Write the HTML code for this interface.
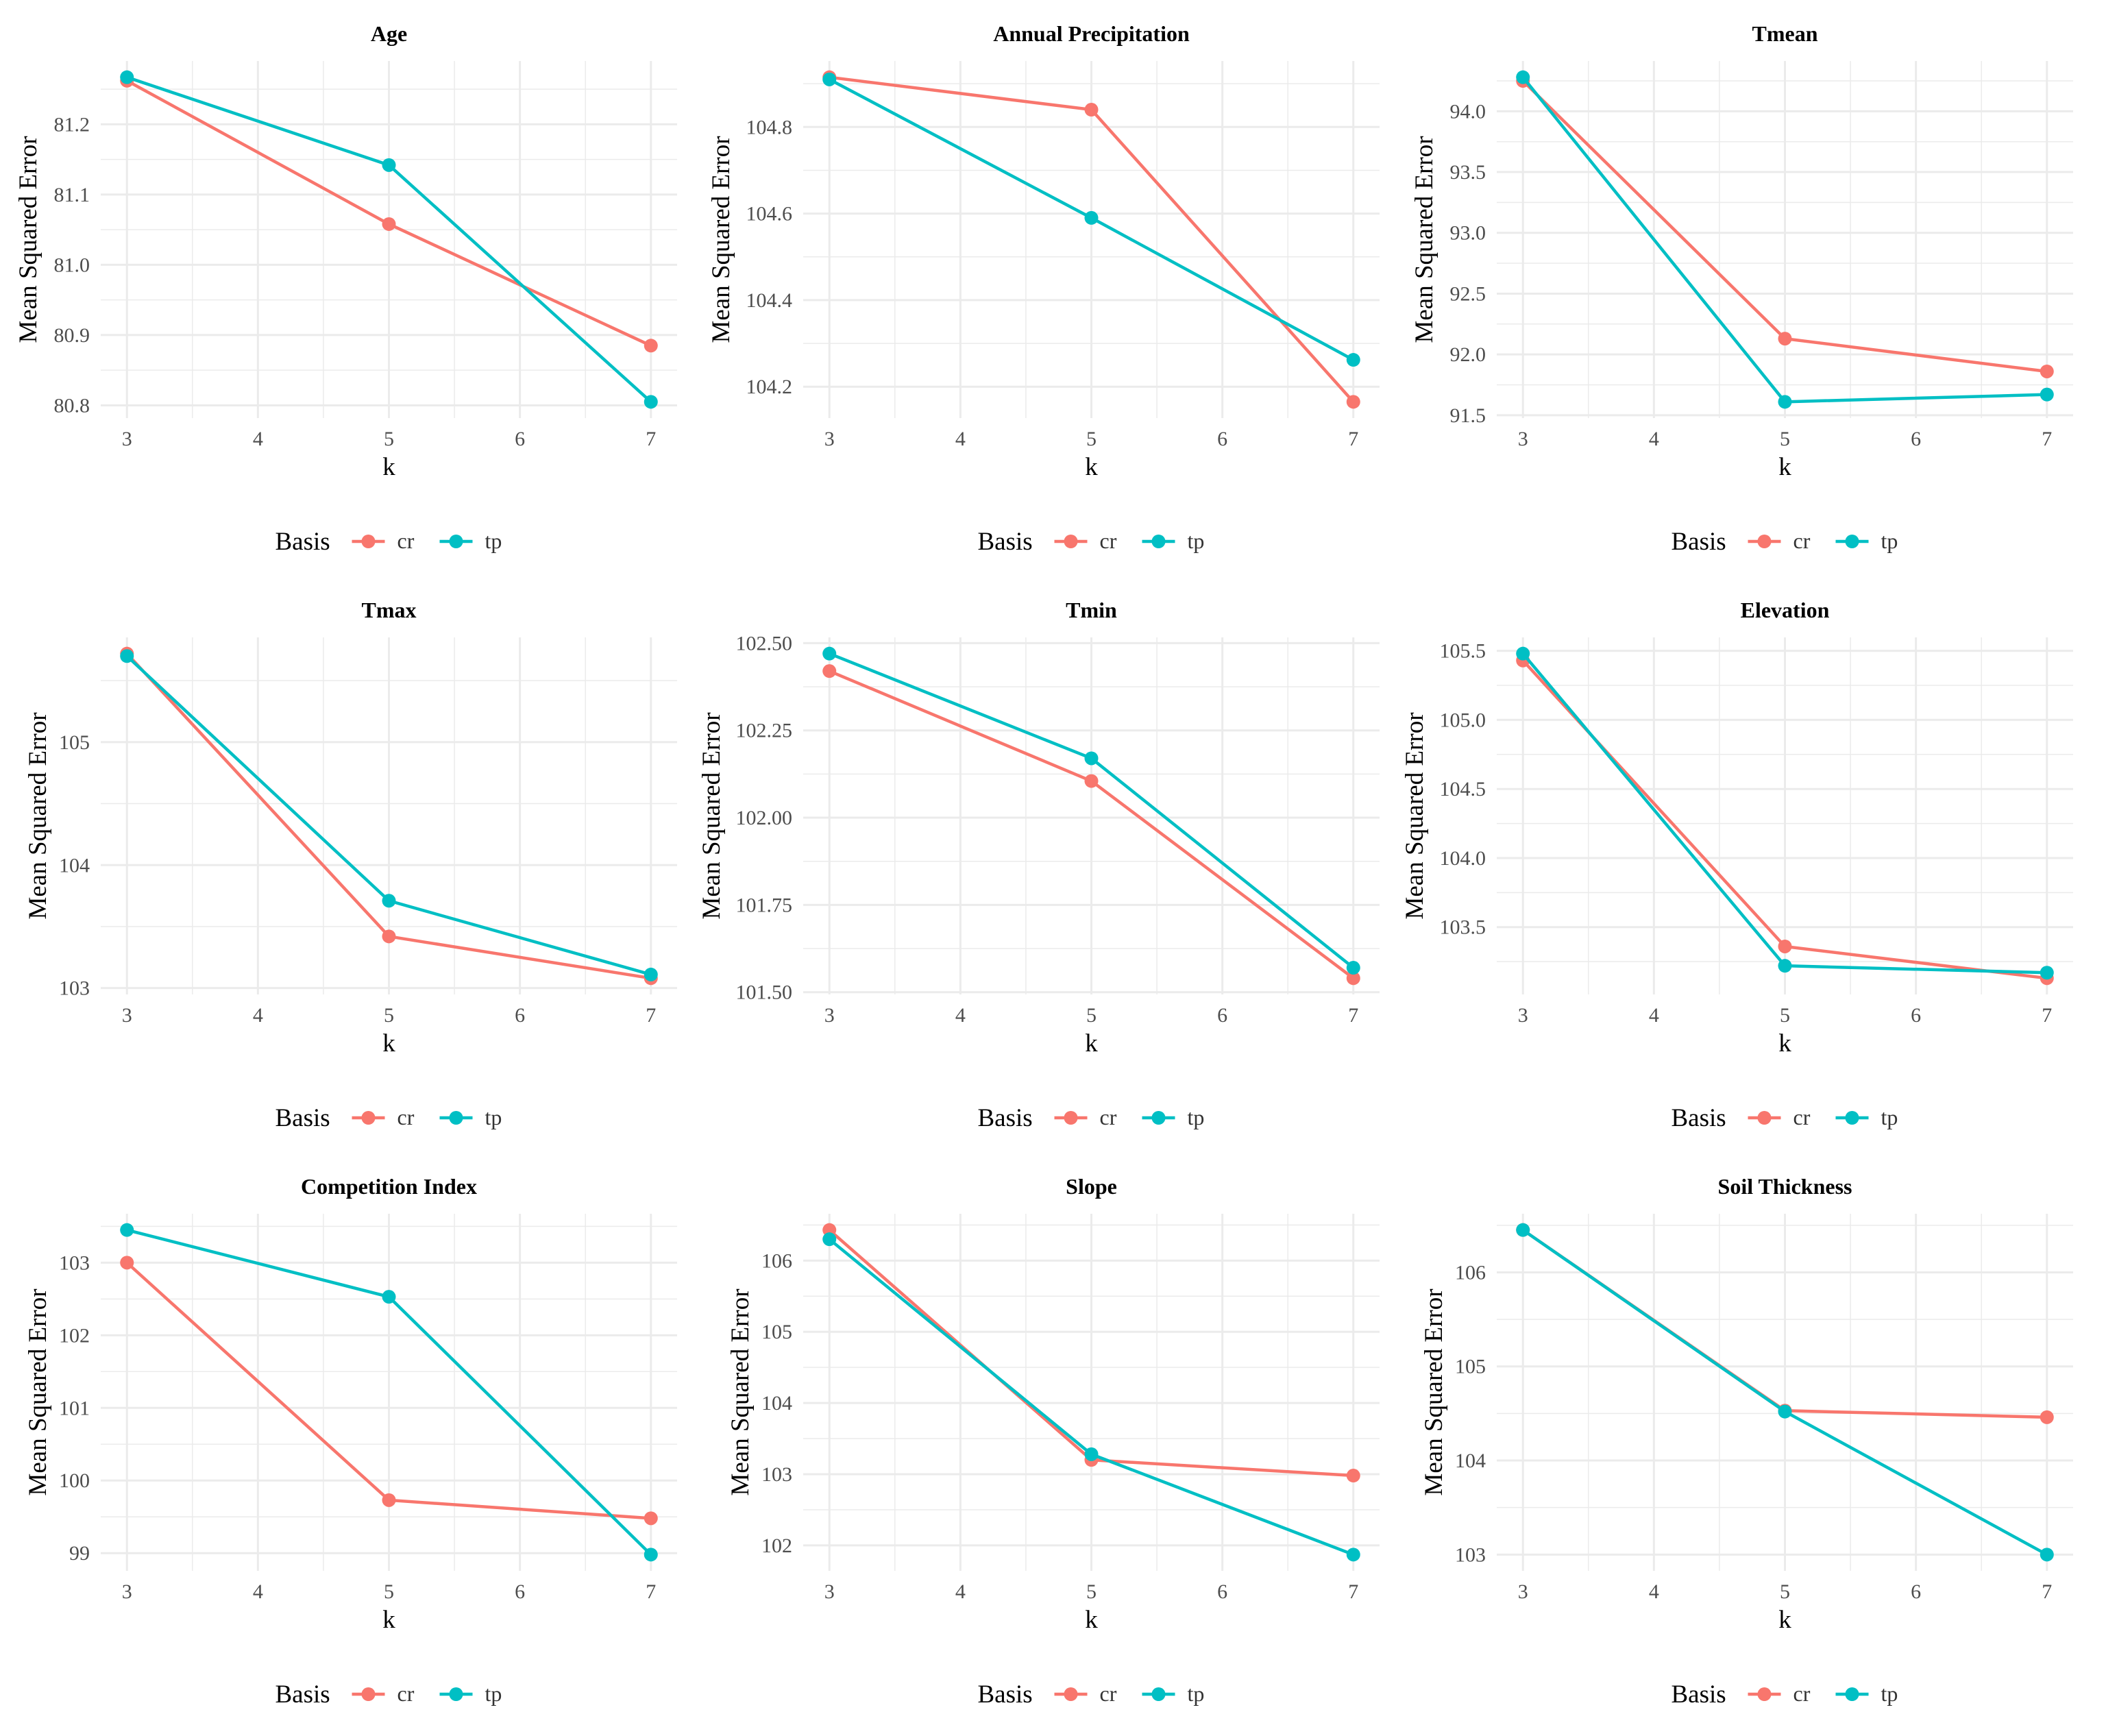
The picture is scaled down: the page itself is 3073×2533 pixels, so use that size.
<!DOCTYPE html>
<html><head><meta charset="utf-8"><style>
body{margin:0;background:#fff;}
svg text{font-family:"Liberation Serif",serif;}
</style></head><body>
<svg id="chart" width="3073" height="2528" xmlns="http://www.w3.org/2000/svg"></svg>
<script>
const titles=["Age","Annual Precipitation","Tmean","Tmax","Tmin","Elevation","Competition Index","Slope","Soil Thickness"];
const kValues=[3,5,7];
const xTicks=[3,4,5,6,7];
const crValues=[[81.262,81.058,80.885],[104.915,104.84,104.165],[94.25,92.13,91.86],[105.72,103.42,103.08],[102.42,102.105,101.54],[105.43,103.36,103.13],[103.0,99.73,99.48],[106.43,103.2,102.98],[106.45,104.53,104.46]];
const tpValues=[[81.267,81.142,80.805],[104.91,104.59,104.262],[94.28,91.61,91.67],[105.70,103.71,103.11],[102.47,102.17,101.57],[105.48,103.22,103.17],[103.45,102.53,98.98],[106.3,103.28,101.87],[106.45,104.52,103.0]];
const yTickLabels=[["80.8","80.9","81.0","81.1","81.2"],["104.2","104.4","104.6","104.8"],["91.5","92.0","92.5","93.0","93.5","94.0"],["103","104","105"],["101.50","101.75","102.00","102.25","102.50"],["103.5","104.0","104.5","105.0","105.5"],["99","100","101","102","103"],["102","103","104","105","106"],["103","104","105","106"]];

const NS="http://www.w3.org/2000/svg";
const svg=document.getElementById('chart');
const colX3=[185,1210,2222];
const rowOff=[0,841,1682];
const CR="#F8766D",TP="#00BFC4";
function el(tag,attrs,parent){const e=document.createElementNS(NS,tag);for(const k in attrs)e.setAttribute(k,attrs[k]);(parent||svg).appendChild(e);return e;}

titles.forEach((title,i)=>{
  const col=i%3,row=Math.floor(i/3);
  const g=el('g',{});
  
  
  const x3=colX3[col],L=x3-38,R=x3+765+38,T=rowOff[row]+89,B=rowOff[row]+610;
  const xs=v=>L+(v-2.8)/4.4*(R-L);
  const all=crValues[i].concat(tpValues[i]);
  const mn=Math.min(...all),mx=Math.max(...all),pad=(mx-mn)*0.05;
  const lo=mn-pad,hi=mx+pad;
  const ys=v=>B-(v-lo)/(hi-lo)*(B-T);
  const ticks=yTickLabels[i].map(Number);
  const step=ticks[1]-ticks[0];
  for(let t=ticks[0]-step/2;t<=hi;t+=step){ if(t<lo) continue;
    const ln=el('line',{x1:L,x2:R,y1:ys(t),y2:ys(t),stroke:"#ebebeb","stroke-width":1.5},g);
    
    }
  for(let t=3.5;t<7;t+=1){
    const ln=el('line',{x1:xs(t),x2:xs(t),y1:T,y2:B,stroke:"#ebebeb","stroke-width":1.5},g);
    
    }
  yTickLabels[i].forEach(lab=>{const v=Number(lab);
    const ln=el('line',{x1:L,x2:R,y1:ys(v),y2:ys(v),stroke:"#ebebeb","stroke-width":3},g);
    
    
    const t=el('text',{x:L-16,y:ys(v)+10,"text-anchor":"end","font-size":30,fill:"#4d4d4d"},g);t.textContent=lab;
    
    });
  xTicks.forEach(v=>{
    const ln=el('line',{x1:xs(v),x2:xs(v),y1:T,y2:B,stroke:"#ebebeb","stroke-width":3},g);
    
    
    const t=el('text',{x:xs(v),y:rowOff[row]+650,"text-anchor":"middle","font-size":30,fill:"#4d4d4d"},g);t.textContent=v;
    
    });
  const maxLen=Math.max(...yTickLabels[i].map(s=>s.length));
  const ytx=L-16-maxLen*14-22;
  const yt=el('text',{x:ytx,y:(T+B)/2,"text-anchor":"middle","font-size":37,fill:"#000",transform:`rotate(-90 ${ytx} ${(T+B)/2})`},g);
  yt.textContent="Mean Squared Error";
  
  
  const cx=(L+R)/2;
  const tt=el('text',{x:cx,y:rowOff[row]+60,"text-anchor":"middle","font-size":32,"font-weight":"bold"},g);tt.textContent=title;
  
  
  const kt=el('text',{x:cx,y:rowOff[row]+693,"text-anchor":"middle","font-size":37},g);kt.textContent="k";
  
  
  [[crValues[i],CR,'cr'],[tpValues[i],TP,'tp']].forEach(([vals,c,nm])=>{
    const pl=el('polyline',{points:vals.map((v,j)=>xs(kValues[j])+","+ys(v)).join(" "),fill:"none",stroke:c,"stroke-width":4.5},g);
    
    
    vals.forEach((v,j)=>{const p=el('circle',{cx:xs(kValues[j]),cy:ys(v),r:10,fill:c},g);
      
      });
  });
  const ly=rowOff[row]+790;
  const lg=el('g',{},g);
  
  
  const b=el('text',{x:cx-166,y:ly+12,"font-size":37},lg);b.textContent="Basis";
  
  
  [[CR,'cr',-30],[TP,'tp',98]].forEach(([c,nm,dx])=>{
    const e=el('g',{},lg);
    
    
    el('line',{x1:cx+dx-24,x2:cx+dx+24,y1:ly,y2:ly,stroke:c,"stroke-width":4.5},e);
    el('circle',{cx:cx+dx,cy:ly,r:10,fill:c},e);
    const t=el('text',{x:cx+dx+42,y:ly+10,"font-size":32,fill:"#333"},e);t.textContent=nm;
  });
});
</script>
</body></html>
